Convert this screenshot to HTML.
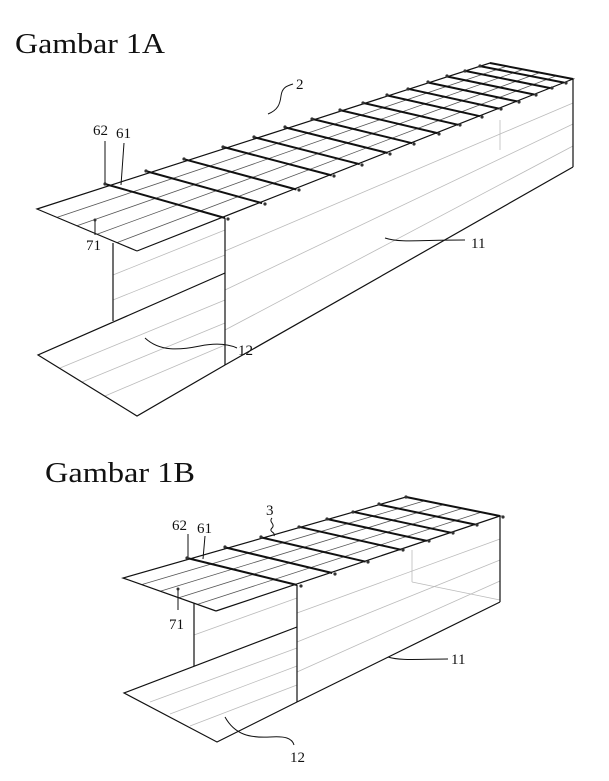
<!DOCTYPE html>
<html><head><meta charset="utf-8"><style>
html,body{margin:0;padding:0;background:#fff;}
svg{display:block;}
text{font-family:"Liberation Serif",serif;fill:#111;}
</style></head><body>
<svg width="609" height="781" viewBox="0 0 609 781" xmlns="http://www.w3.org/2000/svg">
<text x="15" y="53" font-size="28" textLength="150" lengthAdjust="spacingAndGlyphs">Gambar 1A</text>
<text x="45" y="482" font-size="28" textLength="150" lengthAdjust="spacingAndGlyphs">Gambar 1B</text>

<!-- ===== FIG 1A ===== -->
<g stroke="#bbb" stroke-width="0.8" fill="none">
  <line x1="225" y1="251" x2="573" y2="103"/>
  <line x1="225" y1="290" x2="573" y2="124"/>
  <line x1="225" y1="330" x2="573" y2="146"/>
  <line x1="113" y1="275" x2="225" y2="230"/>
  <line x1="113" y1="300" x2="225" y2="255"/>
  <line x1="60" y1="368" x2="225" y2="300"/>
  <line x1="82" y1="382" x2="225" y2="323"/>
  <line x1="105" y1="396" x2="225" y2="345"/>
  <line x1="500" y1="120" x2="500" y2="150"/>
</g>
<g stroke="#555" stroke-width="0.8" fill="none">
  <line x1="57" y1="217.4" x2="506.6" y2="66.2"/>
  <line x1="77" y1="225.8" x2="523.2" y2="69.4"/>
  <line x1="97" y1="234.2" x2="539.8" y2="72.6"/>
  <line x1="117" y1="242.6" x2="556.4" y2="75.8"/>
</g>
<g stroke="#111" stroke-width="1.2" fill="none">
  <polyline points="137,251 37,209 490,63 573,79 137,251"/>
  <line x1="225" y1="218" x2="225" y2="365"/>
  <line x1="573" y1="79" x2="573" y2="167"/>
  <line x1="225" y1="365" x2="573" y2="167"/>
  <line x1="113" y1="243" x2="113" y2="321"/>
  <polyline points="225,273 38,355 137,416 225,365"/>
</g>
<g stroke="#111" stroke-width="2" fill="none">
  <line x1="105" y1="184" x2="225" y2="218"/>
  <line x1="146" y1="171.1" x2="262.1" y2="203.2"/>
  <line x1="184" y1="159.2" x2="296.4" y2="189.5"/>
  <line x1="223" y1="146.9" x2="331.7" y2="175.4"/>
  <line x1="254" y1="137.2" x2="359.7" y2="164.2"/>
  <line x1="285" y1="127.4" x2="387.7" y2="153"/>
  <line x1="312" y1="118.9" x2="412.1" y2="143.2"/>
  <line x1="340" y1="110.1" x2="437.4" y2="133.1"/>
  <line x1="363" y1="102.9" x2="458.2" y2="124.8"/>
  <line x1="387" y1="95.4" x2="479.9" y2="116.2"/>
  <line x1="408" y1="88.8" x2="498.9" y2="108.6"/>
  <line x1="428" y1="82.5" x2="517" y2="101.4"/>
  <line x1="447" y1="76.5" x2="534.1" y2="94.5"/>
  <line x1="465" y1="70.9" x2="550.4" y2="88.1"/>
  <line x1="480" y1="66.1" x2="564" y2="82.6"/>
  <line x1="490" y1="63" x2="573" y2="79"/>
</g>
<g fill="#333">
  <circle cx="105" cy="184" r="1.6"/><circle cx="228" cy="219" r="1.6"/>
  <circle cx="146" cy="171" r="1.6"/><circle cx="265" cy="204" r="1.6"/>
  <circle cx="184" cy="159" r="1.6"/><circle cx="299" cy="190" r="1.6"/>
  <circle cx="223" cy="147" r="1.6"/><circle cx="334" cy="176" r="1.6"/>
  <circle cx="254" cy="137" r="1.6"/><circle cx="362" cy="165" r="1.6"/>
  <circle cx="285" cy="127" r="1.6"/><circle cx="390" cy="154" r="1.6"/>
  <circle cx="312" cy="119" r="1.6"/><circle cx="414" cy="144" r="1.6"/>
  <circle cx="340" cy="110" r="1.6"/><circle cx="439" cy="134" r="1.6"/>
  <circle cx="363" cy="103" r="1.6"/><circle cx="460" cy="125" r="1.6"/>
  <circle cx="387" cy="95" r="1.6"/><circle cx="482" cy="117" r="1.6"/>
  <circle cx="408" cy="89" r="1.6"/><circle cx="501" cy="109" r="1.6"/>
  <circle cx="428" cy="82" r="1.6"/><circle cx="519" cy="102" r="1.6"/>
  <circle cx="447" cy="76" r="1.6"/><circle cx="536" cy="95" r="1.6"/>
  <circle cx="465" cy="71" r="1.6"/><circle cx="552" cy="88" r="1.6"/>
  <circle cx="480" cy="66" r="1.6"/><circle cx="566" cy="83" r="1.6"/>
  <circle cx="95" cy="220" r="1.5"/>
</g>
<g stroke="#111" stroke-width="1" fill="none">
  <path d="M268,114 C278,110 280,104 281,96 C282,88 286,86 293,84"/>
  <line x1="105" y1="141" x2="105" y2="183"/>
  <line x1="124" y1="143" x2="121" y2="185"/>
  <line x1="95" y1="221" x2="95" y2="235"/>
  <path d="M385,238 C400,243 420,240 465,240"/>
  <path d="M145,338 C160,352 180,350 200,346 C215,343 228,344 237,348"/>
</g>
<text x="296" y="89" font-size="15">2</text>
<text x="93" y="135" font-size="15">62</text>
<text x="116" y="138" font-size="15">61</text>
<text x="86" y="250" font-size="15">71</text>
<text x="471" y="248" font-size="15">11</text>
<text x="238" y="355" font-size="15">12</text>

<!-- ===== FIG 1B ===== -->
<g stroke="#bbb" stroke-width="0.8" fill="none">
  <line x1="297" y1="613" x2="500" y2="539"/>
  <line x1="297" y1="642" x2="500" y2="560"/>
  <line x1="297" y1="672" x2="500" y2="581"/>
  <line x1="194" y1="635" x2="297" y2="598"/>
  <line x1="150" y1="702" x2="297" y2="648"/>
  <line x1="170" y1="714" x2="297" y2="666"/>
  <line x1="190" y1="726" x2="297" y2="685"/>
  <line x1="412" y1="550" x2="412" y2="582"/>
  <line x1="412" y1="582" x2="500" y2="600"/>
</g>
<g stroke="#555" stroke-width="0.8" fill="none">
  <line x1="141.6" y1="584.6" x2="424.8" y2="500.8"/>
  <line x1="160.2" y1="591.2" x2="443.6" y2="504.6"/>
  <line x1="178.8" y1="597.8" x2="462.4" y2="508.4"/>
  <line x1="197.4" y1="604.4" x2="481.2" y2="512.2"/>
</g>
<g stroke="#111" stroke-width="1.2" fill="none">
  <polyline points="216,611 123,578 406,497 500,516 216,611"/>
  <line x1="297" y1="585" x2="297" y2="702"/>
  <line x1="500" y1="516" x2="500" y2="602"/>
  <line x1="297" y1="702" x2="500" y2="602"/>
  <line x1="194" y1="603" x2="194" y2="666"/>
  <polyline points="297,627 124,693 217,742 297,702"/>
</g>
<g stroke="#111" stroke-width="2" fill="none">
  <line x1="187" y1="558" x2="297" y2="585"/>
  <line x1="225" y1="547.4" x2="332.2" y2="573"/>
  <line x1="261" y1="537.4" x2="365.6" y2="561.7"/>
  <line x1="299" y1="526.8" x2="400.8" y2="549.7"/>
  <line x1="327" y1="519" x2="426.8" y2="540.9"/>
  <line x1="353" y1="511.8" x2="450.9" y2="532.7"/>
  <line x1="379" y1="504.5" x2="475" y2="524.5"/>
  <line x1="406" y1="497" x2="500" y2="516"/>
</g>
<g fill="#333">
  <circle cx="187" cy="558" r="1.6"/><circle cx="301" cy="586" r="1.6"/>
  <circle cx="225" cy="547" r="1.6"/><circle cx="335" cy="574" r="1.6"/>
  <circle cx="261" cy="537" r="1.6"/><circle cx="368" cy="562" r="1.6"/>
  <circle cx="299" cy="527" r="1.6"/><circle cx="403" cy="550" r="1.6"/>
  <circle cx="327" cy="519" r="1.6"/><circle cx="429" cy="541" r="1.6"/>
  <circle cx="353" cy="512" r="1.6"/><circle cx="453" cy="533" r="1.6"/>
  <circle cx="379" cy="504" r="1.6"/><circle cx="477" cy="525" r="1.6"/>
  <circle cx="406" cy="497" r="1.6"/><circle cx="503" cy="517" r="1.6"/>
  <circle cx="178" cy="589" r="1.5"/>
</g>
<g stroke="#111" stroke-width="1" fill="none">
  <path d="M272,518 C268,522 276,524 272,528 C268,532 276,532 274,536"/>
  <line x1="188" y1="534" x2="188" y2="557"/>
  <line x1="205" y1="536" x2="203" y2="559"/>
  <line x1="178" y1="590" x2="178" y2="610"/>
  <path d="M388,657 C400,661 420,659 448,659"/>
  <path d="M225,717 C235,735 250,738 270,737 C285,736 292,738 294,745"/>
</g>
<text x="266" y="515" font-size="15">3</text>
<text x="172" y="530" font-size="15">62</text>
<text x="197" y="533" font-size="15">61</text>
<text x="169" y="629" font-size="15">71</text>
<text x="451" y="664" font-size="15">11</text>
<text x="290" y="762" font-size="15">12</text>
</svg>
</body></html>
